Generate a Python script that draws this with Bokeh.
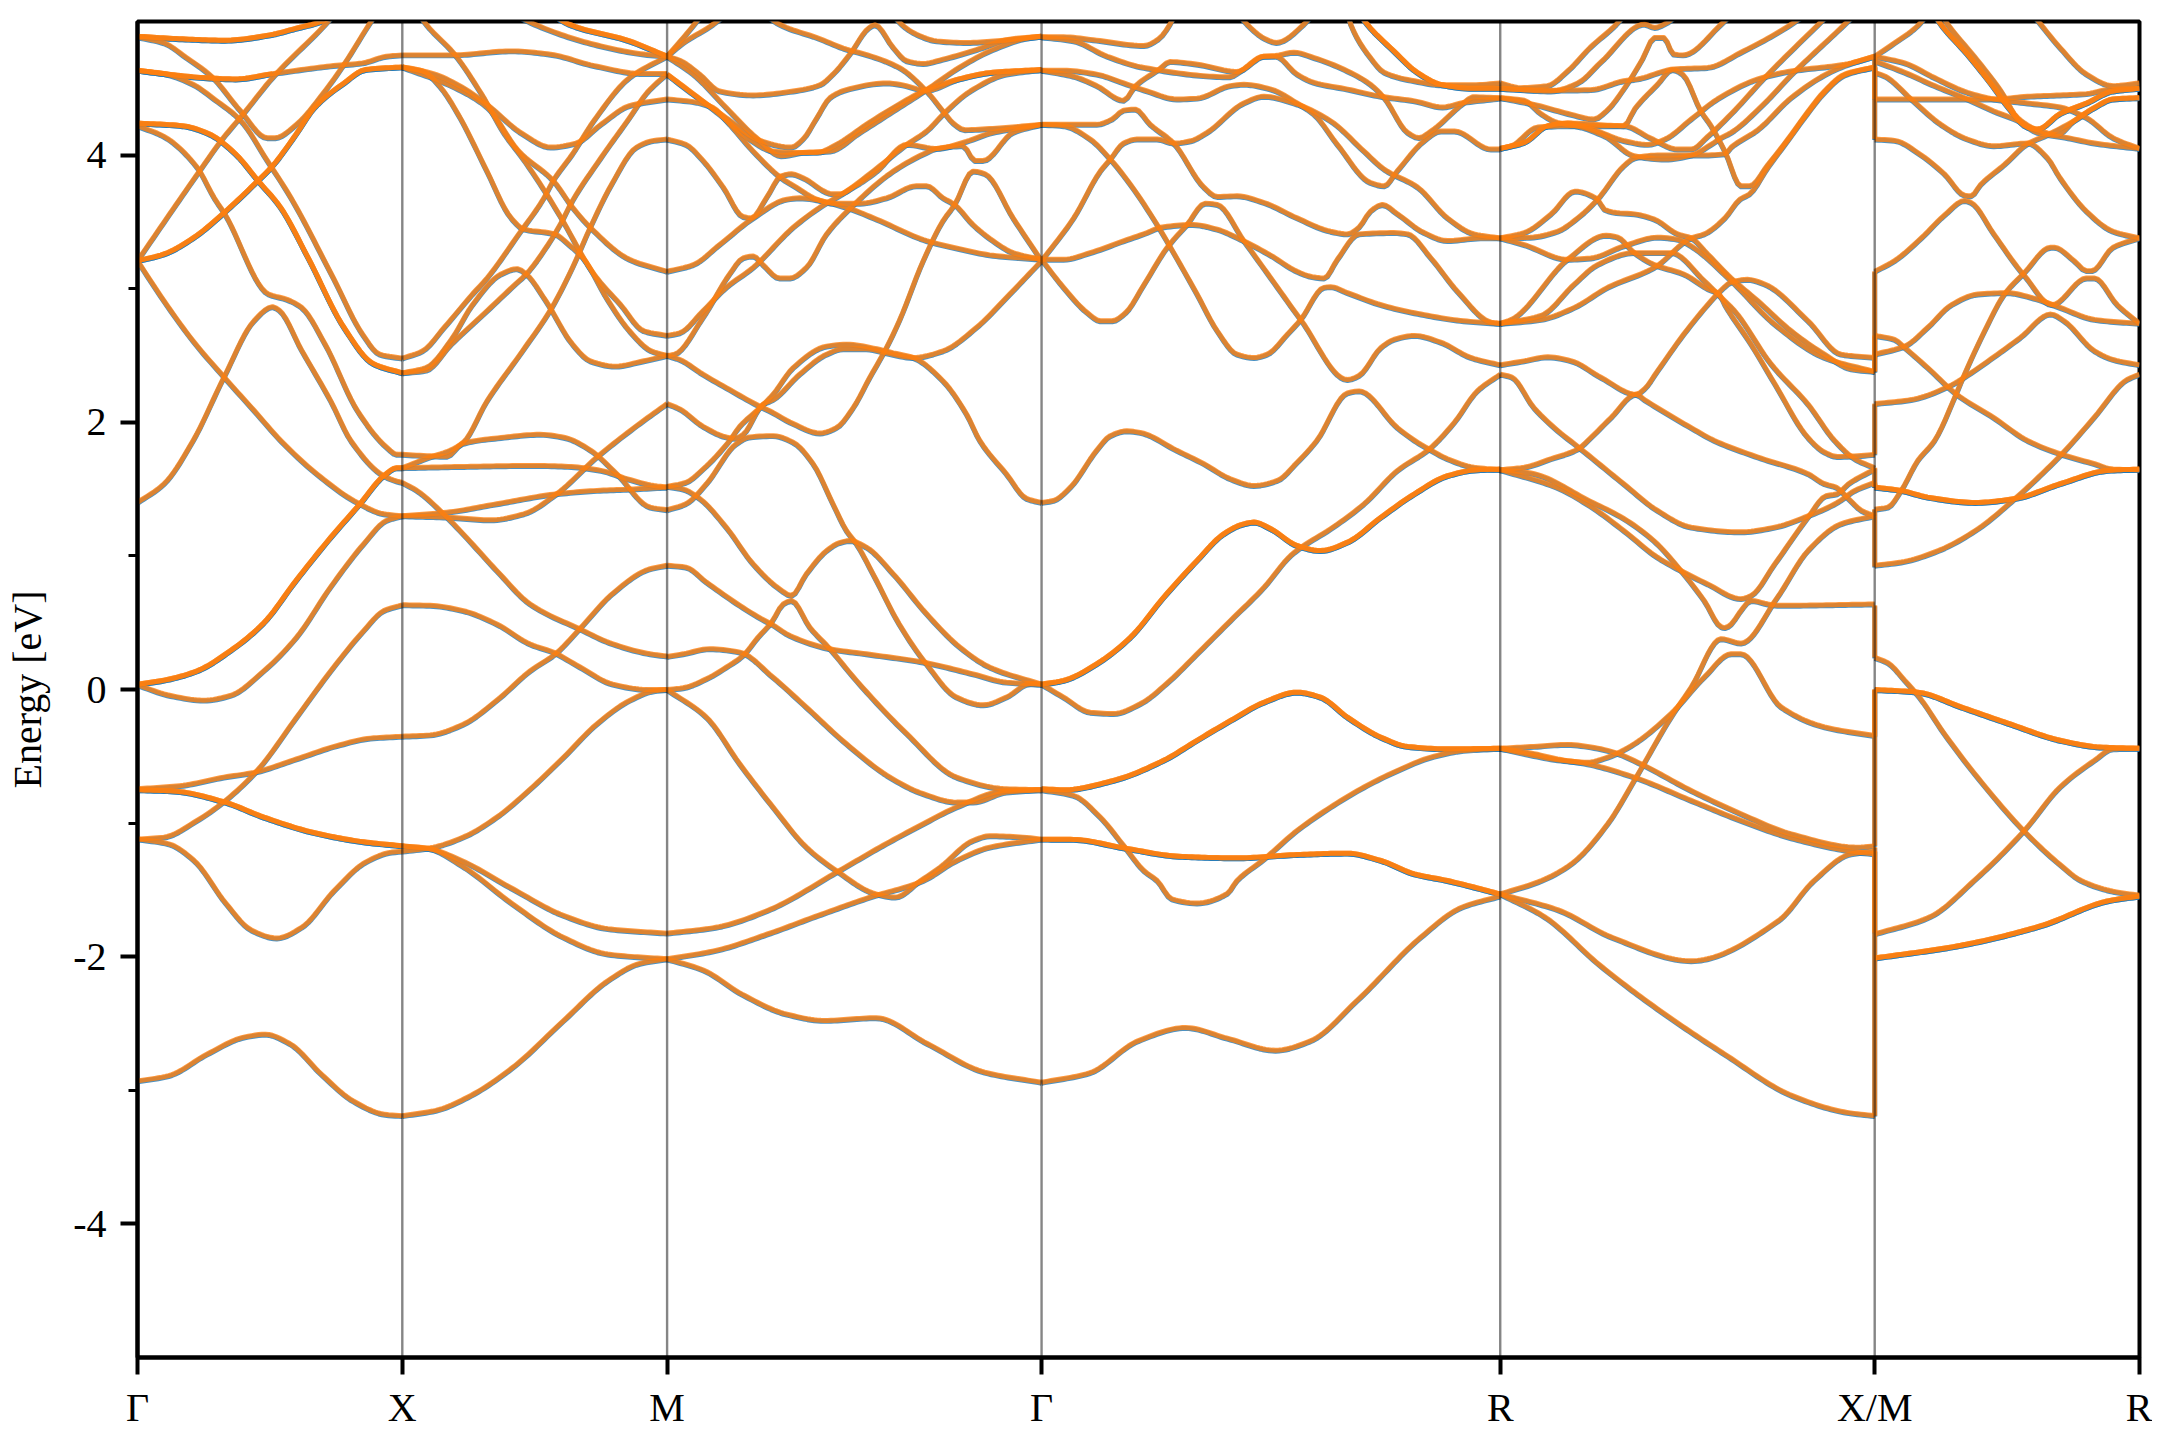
import numpy as np
from bokeh.plotting import figure
from bokeh.models import FixedTicker, Span, Range1d
from bokeh.embed import file_html
from bokeh.resources import INLINE

# path coordinate of the high-symmetry points
K_POINTS = [0.0, 1.0, 2.0, 3.4142, 5.1463, 6.5605, 7.5605]
K_LABELS = ["Γ", "X", "M", "Γ", "R", "X/M", "R"]
E_TICKS = [-4, -2, 0, 2, 4]
E_MINOR = [-3, -1, 1, 3]

# every band piece: (fraction along the segment, energy in eV, how many bands coincide)
GAMMA_X = [
 ([0,.17,.33,.5,.6,.67,.78,.9],[4.89,4.87,4.86,4.90,4.95,4.985,5.07,5.2],2),
 ([0,.10,.185,.28,.39,.49,.52,.60,.70,.78,.875,.95],[4.885,4.84,4.73,4.59,4.33,4.13,4.13,4.23,4.46,4.68,4.98,5.2],1),
 ([0,.10,.25,.37,.51,.74,.85,.94,1],[4.635,4.61,4.58,4.57,4.61,4.67,4.69,4.74,4.75],1),
 ([0,.10,.25,.37,.51],[4.635,4.61,4.58,4.57,4.61],1),
 ([0,.10,.21,.29,.39,.49,.58,.74,.85,.915,1],[4.635,4.61,4.53,4.42,4.26,3.96,3.68,3.08,2.66,2.51,2.48],1),
 ([0,.17,.27,.37,.455,.54,.645,.78,.89,1],[4.24,4.22,4.16,4.01,3.81,3.61,3.23,2.71,2.44,2.37],2),
 ([0,.10,.225,.29,.33,.495,.565,.62,.71,.83,.943,.98,1],[4.22,4.14,3.91,3.68,3.56,2.96,2.92,2.86,2.58,2.09,1.81,1.76,1.76],1),
 ([0,.10,.21,.327,.44,.51,.535,.62,.73,.807,.93,.98,1],[1.40,1.54,1.864,2.34,2.76,2.865,2.84,2.54,2.16,1.86,1.60,1.56,1.55],1),
 ([0,.10,.21,.327,.44,.543,.68,.83,.93,1],[3.21,2.91,2.61,2.34,2.09,1.86,1.61,1.40,1.315,1.30],1),
 ([0,.23,.32,.40,.51,.71,.85],[3.21,3.87,4.12,4.31,4.58,4.98,5.3],1),
 ([0,.10,.21,.327,.455,.51,.60,.67,.78,.86,1],[3.21,3.26,3.38,3.57,3.81,3.92,4.16,4.36,4.54,4.64,4.66],2),
 ([0,.10,.225,.35,.477,.60,.73,.84,.93,.98,1],[.04,.07,.14,.29,.50,.82,1.14,1.39,1.60,1.66,1.66],2),
 ([0,.125,.25,.35,.477,.60,.73,.854,.94,1],[.035,-.045,-.08,-.045,.14,.39,.77,1.09,1.265,1.30],1),
 ([0,.10,.225,.326,.45,.60,.73,.854,.93,1],[-1.12,-1.105,-.98,-.84,-.61,-.21,.14,.44,.59,.634],1),
 ([0,.16,.326,.44,.60,.753,.88,1],[-.743,-.72,-.656,-.62,-.52,-.42,-.364,-.35],1),
 ([0,.137,.326,.477,.665,.854,1],[-.75,-.76,-.84,-.955,-1.07,-1.14,-1.17],2),
 ([0,.118,.214,.334,.43,.526,.62,.743,.863,.96,1],[-1.118,-1.155,-1.28,-1.60,-1.80,-1.86,-1.78,-1.505,-1.29,-1.217,-1.21],1),
 ([0,.118,.262,.406,.483,.575,.695,.815,.935,1],[-2.93,-2.89,-2.73,-2.60,-2.58,-2.65,-2.88,-3.08,-3.18,-3.19],1),
]
X_M = [
 ([0,.185,.414,.56,.724,.91,1],[4.75,4.75,4.78,4.755,4.67,4.61,4.61],1),
 ([0,.117,.225,.32,.454,.56,.656,.75,.858,1],[4.66,4.61,4.51,4.38,4.16,4.06,4.09,4.23,4.37,4.42],1),
 ([0,.185,.32,.44,.57,.643,.71,.858,1],[4.66,4.52,4.36,4.03,3.81,3.61,3.46,3.22,3.13],1),
 ([0,.077,.144,.21,.32,.40,.434,.454,.575,.63,.683,.778,.858,.94,1],[4.66,4.63,4.51,4.31,3.88,3.56,3.48,3.45,3.41,3.33,3.23,2.91,2.685,2.535,2.50],1),
 ([0,.09,.198,.30,.387,.454,.542,.596,.724,.825,.912,1],[5.25,4.98,4.755,4.456,4.157,3.98,3.72,3.545,3.11,2.88,2.685,2.65],1),
 ([0,.077,.158,.265,.32,.44,.535,.57,.643,.724,.858,1],[2.48,2.535,2.71,2.96,3.08,3.41,3.68,3.81,4.01,4.26,4.58,4.74],1),
 ([0,.09,.185,.265,.373,.434,.468,.542,.643,.71,.805,.90,1],[2.37,2.41,2.62,2.88,3.11,3.15,3.11,2.91,2.585,2.46,2.42,2.455,2.50],1),
 ([0,.09,.185,.32,.427,.468,.55,.596,.643,.75,.858,.925,1],[2.37,2.39,2.585,2.835,3.035,3.11,3.33,3.48,3.66,3.98,4.28,4.47,4.61],1),
 ([0,.105,.168,.23,.32,.454,.562,.643,.71,.79,.885,.95,1],[1.66,1.74,1.78,1.85,2.16,2.535,2.85,3.16,3.46,3.78,4.06,4.11,4.12],1),
 ([0,.093,.168,.226,.373,.52,.614,.712,.81,.936,1],[1.76,1.75,1.745,1.84,1.886,1.91,1.886,1.79,1.615,1.365,1.345],1),
 ([0,.055,.156,.23,.357,.483,.67,.795,.936,1],[1.55,1.49,1.315,1.165,.89,.64,.454,.342,.267,.25],1),
 ([0,.246,.50,.626,.75,.85,.95,1],[1.66,1.67,1.677,1.67,1.64,1.577,1.527,1.515],1),
 ([0,.168,.357,.583,.735,.86,1],[1.30,1.327,1.39,1.465,1.49,1.50,1.515],1),
 ([0,.168,.333,.459,.583,.735,.875,1],[1.30,1.29,1.27,1.315,1.465,1.74,1.96,2.14],1),
 ([0,.105,.23,.357,.483,.57,.67,.795,.93,1],[.634,.63,.59,.49,.34,.28,.17,.04,0,0],1),
 ([0,.105,.23,.357,.483,.58,.67,.795,.93,1],[-.35,-.34,-.26,-.08,.14,.27,.455,.72,.90,.93],1),
 ([0,.105,.23,.357,.483,.61,.735,.86,.95,1],[-1.21,-1.185,-1.105,-.955,-.745,-.505,-.257,-.08,-.01,0],1),
 ([0,.10,.224,.416,.608,.776,1],[-1.17,-1.19,-1.28,-1.49,-1.69,-1.79,-1.824],1),
 ([0,.10,.224,.416,.608,.776,1],[-1.17,-1.19,-1.317,-1.604,-1.854,-1.98,-2.016],1),
 ([0,.127,.248,.416,.608,.776,.897,1],[-3.19,-3.15,-3.05,-2.83,-2.48,-2.18,-2.05,-2.016],1),
 ([.3,.50,.724,.912,1],[5.2,4.98,4.83,4.756,4.74],1),
 ([.45,.63,.858,.94,1],[5.25,4.98,4.855,4.79,4.74],2),
]
M_GAMMA = [
 ([0,.07,.16],[4.74,4.97,5.3],1),
 ([0,.043,.123,.25],[4.74,4.84,4.98,5.3],1),
 ([.18,.30,.40,.488,.51,.62,.693,.737,.764,.795,.87,1],[5.3,4.98,4.88,4.785,4.77,4.656,4.48,4.33,4.24,4.19,4.20,4.23],1),
 ([0,.034,.087,.14,.23,.337,.408,.443,.488,.54,.555,.604,.64,.684,.737,.826,.915,1],[4.74,4.71,4.606,4.48,4.45,4.48,4.526,4.606,4.756,4.955,4.975,4.805,4.706,4.686,4.718,4.79,4.868,4.89],1),
 ([.55,.626,.666,.72,.80,.90,1],[5.3,4.98,4.905,4.855,4.843,4.86,4.89],1),
 ([0,.06,.14,.22,.283,.337,.40,.452,.532,.604,.693,.78,.87,1],[4.606,4.48,4.306,4.12,4.03,4.02,4.02,4.08,4.23,4.356,4.49,4.57,4.62,4.64],1),
 ([0,.07,.158,.239,.305,.363,.435,.515,.604,.693,.78,.87,.96,1],[4.74,4.606,4.356,4.13,3.995,4.02,4.03,4.17,4.33,4.49,4.656,4.79,4.875,4.89],1),
 ([0,.07,.158,.248,.332,.363,.40,.435,.479,.586,.62,.693,.78,.87,1],[4.606,4.456,4.28,4.11,4.06,4.12,4.28,4.43,4.49,4.54,4.53,4.486,4.57,4.62,4.64],1),
 ([0,.07,.123,.158,.23,.305,.345,.40,.443,.515,.586,.666,.693,.737,.768,.817,.87,.924,1],[4.42,4.40,4.356,4.26,4.03,3.83,3.76,3.67,3.64,3.64,3.68,3.77,3.77,3.68,3.63,3.48,3.36,3.27,3.22],1),
 ([0,.05,.096,.15,.203,.225,.265,.305,.332,.363,.443,.461,.497,.56,.64,.72,.79,.87,1],[4.12,4.08,3.96,3.76,3.54,3.53,3.68,3.845,3.86,3.83,3.71,3.71,3.76,3.88,4.08,4.05,4.095,4.17,4.23],1),
 ([0,.07,.14,.23,.32,.354,.426,.488,.56,.693,.78,.87,1],[3.13,3.18,3.33,3.53,3.67,3.68,3.65,3.60,3.52,3.36,3.30,3.25,3.22],1),
 ([0,.034,.096,.158,.23,.337,.408,.479,.55,.64,.693,.742,.81,.906,1],[2.65,2.67,2.835,3.01,3.16,3.46,3.61,3.73,3.88,4.08,4.18,4.32,4.48,4.606,4.64],1),
 ([0,.02,.096,.167,.203,.23,.256,.30,.328,.372,.426,.488,.604,.693,.72,.79,.822,.844,.924,1],[2.50,2.51,2.785,3.11,3.23,3.245,3.18,3.08,3.08,3.16,3.41,3.60,3.88,4.02,4.05,4.07,3.96,3.96,4.17,4.23],1),
 ([0,.034,.096,.158,.18,.203,.256,.283,.354,.426,.47,.532,.586,.657,.737,.826,.915,1],[2.14,2.10,1.97,1.89,1.88,1.91,2.136,2.17,2.36,2.51,2.55,2.55,2.52,2.485,2.535,2.71,2.96,3.21],1),
 ([0,.034,.096,.158,.248,.274,.337,.408,.452,.497,.541,.586,.62,.684,.737,.768,.817,.849,.924,1],[2.50,2.47,2.36,2.26,2.12,2.086,1.99,1.92,1.96,2.11,2.335,2.56,2.76,3.21,3.51,3.63,3.88,3.86,3.53,3.21],1),
 ([0,.05,.105,.185,.22,.283,.337,.39,.443,.479,.506,.55,.62,.693,.773,.844,.906,.969,1],[1.345,1.39,1.54,1.84,1.89,1.90,1.85,1.69,1.39,1.19,1.09,.866,.49,.19,-.057,-.115,-.057,.043,.04],1),
 ([0,.05,.096,.167,.194,.248,.283,.337,.426,.479,.56,.604,.657,.737,.80,.835,.906,.96,1],[1.52,1.55,1.65,1.864,1.97,2.11,2.21,2.41,2.57,2.585,2.55,2.52,2.485,2.31,2.06,1.864,1.615,1.43,1.40],1),
 ([0,.043,.087,.158,.23,.30,.332,.372,.426,.461,.488,.532,.604,.693,.782,.862,1],[1.52,1.50,1.43,1.215,.94,.754,.704,.866,1.04,1.10,1.115,1.066,.866,.567,.317,.167,.04],1),
 ([0,.043,.105,.158,.203,.243,.279,.31,.332,.381,.435,.506,.64,.773,.906,1],[0,.013,.08,.167,.255,.392,.504,.64,.666,.467,.305,.067,-.33,-.656,-.743,-.75],1),
 ([0,.05,.105,.194,.252,.279,.328,.435,.532,.684,.817,.906,1],[.93,.916,.804,.63,.53,.49,.404,.305,.267,.205,.117,.055,.04],1),
 ([0,.043,.114,.194,.283,.372,.479,.595,.684,.773,.817,.906,1],[.247,.267,.305,.28,.092,-.132,-.406,-.656,-.78,-.843,-.843,-.768,-.75],1),
 ([0,.105,.194,.283,.372,.452,.558,.609,.677,.729,.817,.862,.95,1],[0,-.207,-.556,-.88,-1.18,-1.355,-1.53,-1.554,-1.43,-1.33,-1.13,-1.095,-1.105,-1.12],1),
 ([0,.13,.268,.46,.568,.684,.773,.906,1],[-1.824,-1.78,-1.654,-1.355,-1.18,-1.005,-.88,-.756,-.75],1),
 ([0,.13,.268,.404,.558,.635,.684,.773,.862,1],[-2.016,-1.953,-1.83,-1.69,-1.54,-1.48,-1.43,-1.28,-1.18,-1.12],1),
 ([0,.097,.2,.32,.42,.558,.695,.848,1],[-2.016,-2.10,-2.28,-2.43,-2.477,-2.457,-2.65,-2.864,-2.94],1),
]
GAMMA_R = [
 ([0,.048,.12,.223,.255,.28,.32],[4.885,4.885,4.86,4.82,4.87,4.98,5.3],1),
 ([0,.07,.143,.223,.41,.434,.485,.51,.557,.594,.667,.74,.813,.874,.92,1],[4.885,4.855,4.74,4.656,4.586,4.63,4.74,4.74,4.606,4.544,4.494,4.44,4.406,4.36,4.394,4.426],1),
 ([0,.048,.12,.179,.23,.295,.339,.412,.441,.50,.557,.594,.645,.717,.747,.775,.834,.87,.90,.98,1],[4.635,4.635,4.606,4.54,4.48,4.42,4.426,4.52,4.53,4.494,4.39,4.306,4.08,3.795,3.77,3.88,4.107,4.18,4.18,4.045,4.045],1),
 ([0,.07,.12,.179,.205,.255,.28,.34,.426,.485,.51,.55,.594,.667,.717,.747,.798,.823,.849,.92,.94,1],[4.635,4.59,4.52,4.41,4.52,4.64,4.70,4.68,4.626,4.74,4.745,4.77,4.73,4.63,4.53,4.43,4.17,4.13,4.18,4.39,4.436,4.43],1),
 ([.65,.674,.717,.747,.813,.874,.94,1],[5.3,4.98,4.73,4.62,4.556,4.526,4.526,4.54],1),
 ([.65,.71,.768,.819,.874,.94,1],[5.3,4.98,4.78,4.62,4.526,4.50,4.50],2),
 ([.40,.448,.488,.512,.572,.62],[5.2,4.98,4.87,4.843,4.98,5.2],1),
 ([0,.07,.12,.154,.179,.204,.237,.288,.354,.383,.426,.485,.557,.63,.667,.692,.717,.743,.776,.834,.885,.957,1],[4.23,4.23,4.23,4.27,4.336,4.344,4.23,4.09,3.76,3.69,3.695,3.645,3.53,3.43,3.41,3.46,3.58,3.63,3.56,3.42,3.36,3.38,3.38],1),
 ([0,.048,.106,.15,.194,.252,.288,.339,.383,.426,.463,.492,.536,.565,.616,.63,.667,.74,.813,.92,1],[4.23,4.22,4.12,3.97,3.78,3.48,3.27,2.96,2.685,2.51,2.485,2.51,2.66,2.77,3.01,3.015,2.97,2.88,2.82,2.76,2.74],1),
 ([0,.048,.106,.18,.23,.26,.33,.383,.434,.5,.557,.59,.616,.645,.692,.768,.798,.849,.907,.98,1],[3.22,3.22,3.27,3.36,3.42,3.46,3.48,3.445,3.37,3.25,3.13,3.09,3.08,3.22,3.41,3.42,3.41,3.23,2.98,2.75,2.74],1),
 ([0,.048,.1,.128,.154,.183,.223,.274,.317,.357,.383,.441,.5,.565,.667,.692,.74,.768,.813,.87,.936,1],[3.22,3.01,2.82,2.76,2.76,2.82,3.03,3.31,3.48,3.64,3.63,3.36,3.08,2.77,2.32,2.35,2.56,2.62,2.65,2.6,2.485,2.43],1),
 ([0,.07,.128,.15,.179,.208,.252,.288,.325,.361,.441,.485,.55,.63,.703,.747,.82,.885,.943,1],[3.21,3.53,3.88,3.97,4.09,4.12,4.12,4.09,4.107,4.17,4.39,4.44,4.39,4.257,4.03,3.895,3.76,3.53,3.41,3.38],1),
 ([0,.026,.063,.12,.15,.186,.215,.295,.354,.412,.463,.514,.557,.60,.667,.692,.776,.82,.845,.885,.943,1],[1.40,1.415,1.515,1.79,1.90,1.936,1.924,1.79,1.69,1.577,1.527,1.565,1.70,1.864,2.22,2.235,1.96,1.85,1.80,1.727,1.664,1.645],1),
 ([0,.048,.12,.194,.266,.339,.397,.441,.463,.5,.557,.608,.667,.74,.813,.885,.95,1],[.04,.068,.192,.392,.69,.966,1.165,1.24,1.253,1.203,1.078,1.04,1.103,1.29,1.465,1.60,1.645,1.65],2),
 ([0,.048,.106,.157,.215,.28,.339,.412,.485,.543,.568,.63,.703,.776,.845,.9,.95,1],[.04,-.057,-.17,-.18,-.107,.068,.267,.517,.766,1.003,1.07,1.203,1.39,1.64,1.80,2.0,2.235,2.36],1),
 ([0,.048,.157,.266,.339,.412,.485,.557,.608,.667,.74,.798,.885,1],[-.743,-.75,-.68,-.53,-.38,-.232,-.095,-.02,-.057,-.207,-.357,-.426,-.444,-.44],2),
 ([0,.07,.128,.179,.223,.252,.284,.339,.405,.426,.485,.557,.63,.703,.776,.849,.92,1],[-.75,-.793,-.955,-1.167,-1.355,-1.43,-1.567,-1.598,-1.526,-1.43,-1.27,-1.055,-.88,-.73,-.606,-.506,-.456,-.44],1),
 ([0,.07,.179,.30,.426,.557,.667,.74,.813,.885,1],[-1.12,-1.122,-1.185,-1.248,-1.26,-1.235,-1.225,-1.28,-1.38,-1.43,-1.53],2),
 ([0,.104,.21,.314,.405,.51,.586,.69,.826,.916,1],[-2.94,-2.87,-2.63,-2.53,-2.61,-2.70,-2.63,-2.32,-1.856,-1.63,-1.546],1),
]
R_X = [
 ([0,.055,.126,.18,.24,.31,.40],[4.54,4.505,4.52,4.63,4.806,4.98,5.3],1),
 ([0,.135,.207,.27,.385,.412,.438,.55],[4.50,4.48,4.54,4.70,4.98,4.955,4.98,5.3],1),
 ([0,.064,.153,.242,.33,.367,.465,.554,.643,.777,.9],[4.50,4.49,4.486,4.49,4.556,4.57,4.645,4.656,4.77,4.98,5.25],1),
 ([0,.064,.109,.153,.207,.33,.40,.474,.51,.554,.617,.706,.85,.95],[4.43,4.41,4.31,4.245,4.22,4.22,4.13,4.045,4.045,4.14,4.31,4.58,4.98,5.25],1),
 ([0,.09,.19,.25,.283,.336,.38,.412,.437,.463,.488,.59,.7],[4.43,4.38,4.305,4.27,4.33,4.52,4.72,4.88,4.88,4.756,4.75,4.98,5.3],1),
 ([0,.064,.127,.18,.25,.332,.394,.44,.51,.58,.688,.777,.92,1],[4.05,4.095,4.22,4.24,4.19,4.107,4.08,4.12,4.27,4.42,4.57,4.63,4.68,4.74],1),
 ([0,.03,.1,.19,.278,.358,.44,.51,.563,.59,.617,.706,.777,.92,1],[4.05,4.07,4.21,4.22,4.145,3.995,3.97,4.0,4.08,4.13,4.17,4.39,4.6,4.98,5.2],1),
 ([0,.064,.127,.18,.33,.36,.42,.46,.487,.536,.563,.6,.643,.666,.715,.768,.82,.866,.92,1],[4.05,4.095,4.22,4.24,4.22,4.35,4.53,4.64,4.606,4.33,4.22,4.03,3.77,3.77,3.93,4.12,4.32,4.48,4.606,4.66],1),
 ([0,.064,.136,.2,.26,.278,.31,.358,.412,.474,.51,.554,.617,.688,.777,.866,.937,1],[3.38,3.42,3.56,3.73,3.67,3.595,3.57,3.56,3.52,3.41,3.38,3.26,3.08,2.91,2.685,2.51,2.40,2.38],1),
 ([0,.08,.153,.207,.26,.33,.36,.42,.53,.6,.617,.688,.777,.866,.92,1],[3.38,3.385,3.43,3.53,3.67,3.92,3.98,4.0,4.0,4.01,4.06,4.19,4.43,4.6,4.67,4.74],1),
 ([0,.064,.18,.242,.33,.42,.474,.51,.617,.733,.866,1],[3.38,3.33,3.22,3.23,3.32,3.385,3.37,3.32,3.06,2.735,2.485,2.38],1),
 ([0,.03,.18,.283,.314,.358,.412,.49,.554,.585,.6,.67,.733,.822,.866,.9,.955,1],[2.74,2.77,3.22,3.40,3.385,3.27,3.18,3.11,3.0,2.96,2.88,2.585,2.29,1.886,1.777,1.744,1.75,1.76],1),
 ([0,.109,.198,.26,.358,.456,.545,.59,.626,.724,.822,.893,.947,1],[2.74,2.80,3.035,3.18,3.27,3.27,3.06,2.935,2.835,2.435,2.136,1.864,1.727,1.66],1),
 ([0,.109,.198,.287,.412,.51,.545,.6,.64,.666,.715,.768,.82,.866,.92,1],[2.74,2.77,2.86,3.01,3.16,3.38,3.41,3.53,3.67,3.71,3.91,4.11,4.31,4.47,4.6,4.66],1),
 ([0,.064,.127,.19,.27,.363,.385,.42,.49,.563,.59,.617,.66,.706,.822,.91,1],[2.43,2.46,2.49,2.46,2.335,2.21,2.25,2.385,2.66,2.91,2.99,3.05,3.07,3.035,2.76,2.51,2.485],1),
 ([0,.03,.09,.153,.207,.33,.42,.51,.643,.733,.822,.9,.947,1],[2.36,2.34,2.11,1.94,1.82,1.54,1.34,1.215,1.18,1.215,1.30,1.40,1.49,1.55],1),
 ([0,.064,.135,.207,.242,.296,.363,.385,.51,.572,.688,.822,.866,.897,.93,.965,1],[1.645,1.664,1.727,1.80,1.886,2.036,2.21,2.17,1.96,1.864,1.74,1.615,1.54,1.515,1.43,1.34,1.30],1),
 ([0,.082,.24,.33,.41,.49,.545,.59,.6,.617,.64,.67,.715,.74,1],[1.645,1.62,1.41,1.28,1.115,.866,.665,.47,.463,.49,.58,.666,.64,.63,.64],1),
 ([0,.15,.24,.33,.42,.49,.554,.643,.67,.733,.822,.87,.9,.93,1],[1.645,1.515,1.375,1.19,.99,.88,.79,.68,.704,.94,1.29,1.45,1.465,1.54,1.65],1),
 ([0,.11,.19,.287,.358,.456,.51,.59,.643,.74,.822,.91,1],[-1.53,-1.43,-1.305,-1.005,-.68,-.207,.018,.38,.347,.69,1.04,1.24,1.30],1),
 ([0,.09,.153,.233,.287,.35,.456,.545,.617,.643,.75,.866,1],[-.44,-.494,-.526,-.544,-.506,-.42,-.18,.093,.267,.267,-.13,-.28,-.345],1),
 ([0,.09,.18,.242,.305,.367,.51,.643,.777,.955,1],[-.44,-.426,-.411,-.43,-.47,-.544,-.756,-.93,-1.08,-1.18,-1.17],1),
 ([0,.09,.153,.233,.358,.51,.643,.777,.955,1],[-.44,-.48,-.52,-.556,-.656,-.83,-.98,-1.11,-1.217,-1.23],1),
 ([0,.155,.30,.51,.743,.838,.937,1],[-1.53,-1.65,-1.856,-2.03,-1.73,-1.43,-1.23,-1.21],1),
 ([0,.118,.265,.41,.6,.78,.926,1],[-1.53,-1.70,-2.06,-2.37,-2.73,-3.04,-3.165,-3.19],1),
]
M_R = [
 ([0,.075,.163,.25],[4.74,4.84,4.97,5.2],1),
 ([0,.113,.226,.35,.45,.577,.70,.80,.9,1],[4.74,4.69,4.58,4.47,4.42,4.39,4.36,4.28,4.13,4.05],1),
 ([0,.113,.226,.35,.45,.54,.615,.73,.83,1],[4.705,4.62,4.52,4.42,4.33,4.26,4.17,4.13,4.09,4.05],1),
 ([0,.04,.138,.25,.35,.45,.577,.652,.70,.80,.90,1],[4.62,4.59,4.42,4.23,4.12,4.07,4.09,3.98,3.83,3.58,3.43,3.38],1),
 ([0,.25,.45,.577,.70,.80,.88,1],[4.42,4.42,4.42,4.44,4.45,4.46,4.49,4.50],1),
 ([.15,.25,.35,.45,.5,.577,.615,.70,.80,.90,1],[5.3,4.98,4.755,4.506,4.37,4.21,4.195,4.31,4.39,4.48,4.50],2),
 ([.2,.276,.39,.477,.54,.627,.69,.753,.83,.90,1],[5.2,4.98,4.706,4.48,4.28,4.18,4.155,4.257,4.356,4.42,4.43],1),
 ([.5,.627,.70,.80,.90,1],[5.3,4.98,4.805,4.606,4.52,4.54],1),
 ([0,.075,.176,.263,.34,.364,.40,.49,.577,.65,.70,.753,.83,.9,1],[4.12,4.11,4.0,3.86,3.70,3.695,3.78,3.93,4.085,4.15,4.2,4.257,4.356,4.42,4.43],1),
 ([0,.075,.176,.263,.34,.364,.45,.54,.565,.67,.80,.83,.916,1],[3.13,3.21,3.38,3.55,3.66,3.645,3.41,3.16,3.1,2.88,3.08,3.08,2.88,2.74],1),
 ([0,.138,.29,.34,.45,.55,.665,.715,.83,.90,1],[2.14,2.17,2.28,2.34,2.49,2.635,2.81,2.76,2.535,2.47,2.43],1),
 ([0,.075,.113,.2,.31,.45,.577,.70,.83,.9,1],[2.65,2.62,2.56,2.41,2.21,2.035,1.864,1.765,1.69,1.65,1.645],1),
 ([0,.113,.2,.29,.39,.5,.6,.70,.83,1],[2.51,2.57,2.71,2.88,2.96,2.97,2.93,2.86,2.77,2.74],1),
 ([0,.05,.1,.163,.226,.307,.326,.414,.49,.565,.665,.678,.753,.80,.82,.90,1],[1.35,1.365,1.49,1.715,1.864,2.21,2.30,2.68,2.96,3.12,3.31,3.31,3.21,3.135,3.135,3.31,3.38],1),
 ([0,.1,.2,.38,.53,.70,.88,1],[1.515,1.49,1.44,1.40,1.43,1.54,1.64,1.65],2),
 ([0,.1,.24,.38,.53,.70,.753,.83,.953,1],[.93,.954,1.04,1.19,1.43,1.75,1.864,2.04,2.32,2.36],1),
 ([0,.05,.113,.17,.263,.39,.565,.70,.78,.9,1],[.24,.2,.07,-.06,-.33,-.66,-1.06,-1.31,-1.43,-1.51,-1.54],1),
 ([0,.163,.326,.515,.70,.85,1],[0,-.02,-.13,-.26,-.38,-.43,-.44],2),
 ([0,.21,.375,.565,.70,.83,.9,1],[-1.83,-1.70,-1.43,-1.055,-.73,-.53,-.444,-.44],1),
 ([0,.31,.625,.885,1],[-2.01,-1.92,-1.77,-1.58,-1.546],2),
]
SEGMENTS = [GAMMA_X, X_M, M_GAMMA, GAMMA_R, R_X, M_R]
SEGMENT_START = [0, 1, 2, 3, 4, 5]  # index into K_POINTS, the last one starts at X/M

# the bands jump at the X|M break: energy at X, energy at M
JUMP_X = [-3.19, -1.21, -1.18, -1.17, -.35, .63, 1.30, 1.30, 1.55, 1.66, 1.76, 2.38, 2.38, 2.485, 4.66, 4.66, 4.74]
JUMP_M = [-2.01, -2.01, -1.82, 0, 0, .24, .92, 1.35, 1.515, 1.515, 2.14, 2.51, 2.65, 3.13, 4.12, 4.42, 4.62]


def smooth_path(k, e, per_px=0.012):
    """Drawing aid: a shape-preserving cubic through the read values, so the bands bend as smoothly as the original."""
    k = np.asarray(k, float)
    e = np.asarray(e, float)
    if len(k) < 3:
        return k.tolist(), e.tolist()
    h = np.diff(k)
    d = np.diff(e) / h
    m = np.zeros_like(e)
    for i in range(1, len(k) - 1):
        if d[i - 1] * d[i] > 0:
            w1 = 2 * h[i] + h[i - 1]
            w2 = h[i] + 2 * h[i - 1]
            m[i] = (w1 + w2) / (w1 / d[i - 1] + w2 / d[i])
    m[0] = d[0]
    m[-1] = d[-1]
    xs, ys = [], []
    for i in range(len(h)):
        n = max(2, int(h[i] / per_px))
        t = np.linspace(0, 1, n, endpoint=False)
        a = (2 * t**3 - 3 * t**2 + 1) * e[i] + (t**3 - 2 * t**2 + t) * h[i] * m[i]
        b = (-2 * t**3 + 3 * t**2) * e[i + 1] + (t**3 - t**2) * h[i] * m[i + 1]
        xs.extend((k[i] + t * h[i]).tolist())
        ys.extend((a + b).tolist())
    xs.append(float(k[-1]))
    ys.append(float(e[-1]))
    return xs, ys


FONT = "Liberation Serif"
p = figure(frame_width=2002, frame_height=1336, min_border_left=137, min_border_top=21,
           min_border_right=13, min_border_bottom=70, toolbar_location=None,
           output_backend="svg", x_range=Range1d(K_POINTS[0], K_POINTS[-1]), y_range=Range1d(-5, 5))
p.grid.visible = False
p.outline_line_color = "black"
p.outline_line_width = 4
p.outline_line_alpha = 1

p.xaxis.ticker = FixedTicker(ticks=K_POINTS)
p.xaxis.major_label_overrides = {k: l for k, l in zip(K_POINTS, K_LABELS)}
p.yaxis.ticker = FixedTicker(ticks=E_TICKS, minor_ticks=E_MINOR)
p.yaxis.major_label_overrides = {e: str(e) for e in E_TICKS}
p.yaxis.axis_label = "Energy [eV]"
for ax in (p.xaxis[0], p.yaxis[0]):
    ax.axis_line_width = 4
    ax.major_tick_line_width = 4
    ax.minor_tick_line_width = 3
    ax.major_tick_out = 17
    ax.major_tick_in = 0
    ax.minor_tick_out = 9
    ax.minor_tick_in = 0
    ax.major_label_text_font = FONT
    ax.major_label_text_font_size = "40px"
    ax.major_label_text_color = "black"
p.xaxis.major_label_standoff = 10
p.yaxis.major_label_standoff = 14
p.yaxis.axis_label_text_font = FONT
p.yaxis.axis_label_text_font_size = "40px"
p.yaxis.axis_label_text_font_style = "normal"
p.yaxis.axis_label_text_color = "black"
p.yaxis.axis_label_standoff = 20
p.yaxis.major_label_orientation = "horizontal"

curves = []
for seg, start in zip(SEGMENTS, SEGMENT_START):
    k0 = K_POINTS[start]
    k1 = K_POINTS[start + 1]
    for f, e, n in seg:
        k = [k0 + x * (k1 - k0) for x in f]
        curves.extend([smooth_path(k, e)] * n)
for a, b in zip(JUMP_X, JUMP_M):
    curves.append(([K_POINTS[5], K_POINTS[5]], [a, b]))

SPLIT = 0.007  # the blue channel sits just below the orange one
for k, e in curves:
    p.line(k, [v - SPLIT for v in e], line_color="#1f77b4", line_alpha=0.8, line_width=5, line_join="round")
for k, e in curves:
    p.line(k, e, line_color="#ff7f0e", line_alpha=0.8, line_width=5, line_join="round")

for k in K_POINTS[1:-1]:
    p.add_layout(Span(location=k, dimension="height", line_color="black", line_alpha=0.48, line_width=2.4))

open("out.html", "w").write(file_html(p, INLINE))
